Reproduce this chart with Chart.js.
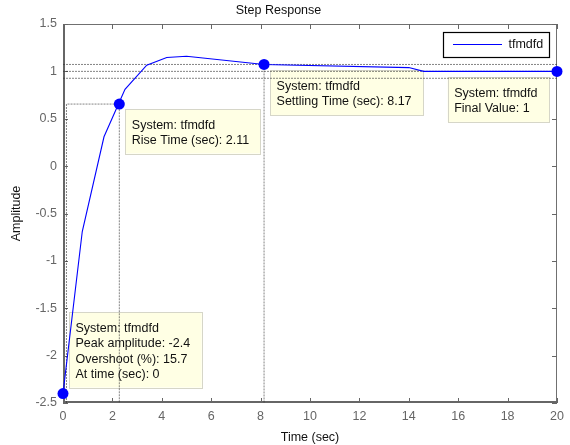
<!DOCTYPE html>
<html>
<head>
<meta charset="utf-8">
<script src="https://cdn.jsdelivr.net/npm/chart.js@4.4.1/dist/chart.umd.min.js"></script>
<style>
  html, body { margin: 0; padding: 0; background: #fff; }
</style>
</head>
<body>
<canvas id="stepChart" width="570" height="445"></canvas>
<script>
// step response curve
const seriesName = "tfmdfd";
const timeSec   = [0, 0.78, 1.66, 2.51, 3.39, 4.2, 5.0, 8.14, 14.0, 14.6, 20];
const amplitude = [-2.4, -0.69, 0.31, 0.81, 1.065, 1.147, 1.16, 1.073, 1.04, 1.0, 1.0];

// data tip markers: peak, rise, settling, final value
const markTime = [0, 2.28, 8.14, 20];
const markAmp  = [-2.4, 0.655, 1.073, 1];

const tipText = [
    ["System: tfmdfd", "Peak amplitude: -2.4", "Overshoot (%): 15.7", "At time (sec): 0"],
    ["System: tfmdfd", "Rise Time (sec): 2.11"],
    ["System: tfmdfd", "Settling Time (sec): 8.17"],
    ["System: tfmdfd", "Final Value: 1"]
];

// characteristic guide lines (settling band, final value, rise, settling)
const guideX = [[0, 20], [0, 20], [0, 20], [0.14, 0.14, 2.28, 2.28], [8.14, 8.14]];
const guideY = [[1.073, 1.073], [1, 1], [0.927, 0.927], [-2.5, 0.655, 0.655, -2.5], [1.073, -2.5]];

const xTicks = [0, 2, 4, 6, 8, 10, 12, 14, 16, 18, 20];
const yTicks = [-2.5, -2, -1.5, -1, -0.5, 0, 0.5, 1, 1.5];

const FONT = "'Liberation Sans', Arial, sans-serif";
Chart.defaults.font.family = FONT;
Chart.defaults.font.size = 12.5;

const toPts = (xs, ys) => xs.map((x, i) => ({x: x, y: ys[i]}));

const guideSets = guideX.map((xs, i) => ({
    label: "guide" + i,
    data: toPts(xs, guideY[i]),
    showLine: true,
    borderColor: "rgba(50,50,50,0.6)",
    borderWidth: 1,
    borderDash: [2, 1],
    pointRadius: 0
}));

// tip placement relative to its marker (pixels)
const tipPlace = [
    {dx: 6, dy: -6, anchor: "bottomLeft"},
    {dx: 6, dy: 5, anchor: "topLeft"},
    {dx: 6, dy: 6, anchor: "topLeft"},
    {dx: -8, dy: 6, anchor: "topRight"}
];

const matlabLook = {
    id: "matlabLook",
    beforeDatasetsDraw(chart) {
        const {ctx, chartArea: a, scales: {x, y}} = chart;
        ctx.save();
        // data tips
        ctx.font = "12.5px " + FONT;
        tipText.forEach((lines, i) => {
            const px = x.getPixelForValue(markTime[i]);
            const py = y.getPixelForValue(markAmp[i]);
            const w = Math.max(...lines.map(l => ctx.measureText(l).width)) + 18;
            const h = 19.5 + (lines.length - 1) * 15.5 + 9.5;
            const p = tipPlace[i];
            let left = p.anchor === "topRight" ? px + p.dx - w : px + p.dx;
            let top = p.anchor === "bottomLeft" ? py + p.dy - h : py + p.dy;
            ctx.fillStyle = "#ffffe4";
            ctx.fillRect(left, top, w, h);
            ctx.strokeStyle = "#d6d6c8";
            ctx.lineWidth = 1;
            ctx.strokeRect(Math.round(left) + 0.5, Math.round(top) + 0.5, Math.round(w), Math.round(h));
            ctx.fillStyle = "#111";
            ctx.textBaseline = "alphabetic";
            ctx.textAlign = "left";
            lines.forEach((l, k) => ctx.fillText(l, left + 6.5, top + 19.5 + k * 15.5));
        });
        // axes box with inward ticks
        ctx.strokeStyle = "#707070";
        ctx.lineWidth = 1;
        ctx.strokeRect(a.left + 0.5, a.top + 0.5, a.right - a.left - 1, a.bottom - a.top - 1);
        ctx.strokeStyle = "#666";
        ctx.lineWidth = 2;
        ctx.beginPath();
        ctx.moveTo(a.left + 1, a.top);
        ctx.lineTo(a.left + 1, a.bottom - 1);
        ctx.lineTo(a.right, a.bottom - 1);
        ctx.stroke();
        ctx.lineWidth = 1;
        ctx.beginPath();
        x.ticks.forEach(t => {
            const px = Math.round(x.getPixelForValue(t.value)) + 0.5;
            ctx.moveTo(px, a.bottom); ctx.lineTo(px, a.bottom - 5);
            ctx.moveTo(px, a.top); ctx.lineTo(px, a.top + 5);
        });
        y.ticks.forEach(t => {
            const py = Math.round(y.getPixelForValue(t.value)) + 0.5;
            ctx.moveTo(a.left, py); ctx.lineTo(a.left + 5, py);
            ctx.moveTo(a.right, py); ctx.lineTo(a.right - 5, py);
        });
        ctx.stroke();
        ctx.restore();
    },
    afterDatasetsDraw(chart) {
        // legend box, top right
        const {ctx} = chart;
        ctx.save();
        ctx.fillStyle = "#fff";
        ctx.fillRect(443, 32, 106, 25);
        ctx.strokeStyle = "#000";
        ctx.lineWidth = 1.2;
        ctx.strokeRect(443.5, 32.5, 106, 25);
        ctx.strokeStyle = "#0000ff";
        ctx.lineWidth = 1;
        ctx.beginPath();
        ctx.moveTo(453, 44.5); ctx.lineTo(502, 44.5);
        ctx.stroke();
        ctx.fillStyle = "#111";
        ctx.font = "12.5px " + FONT;
        ctx.textBaseline = "middle";
        ctx.fillText(seriesName, 508.5, 45);
        ctx.restore();
    }
};

new Chart(document.getElementById("stepChart"), {
    type: "scatter",
    data: {
        datasets: [
            {
                label: "markers",
                data: toPts(markTime, markAmp),
                pointRadius: 5.5,
                pointBackgroundColor: "#0000ff",
                pointBorderColor: "#0000ff",
                pointBorderWidth: 0,
                clip: false
            },
            {
                label: seriesName,
                data: toPts(timeSec, amplitude),
                showLine: true,
                borderColor: "#0000ff",
                borderWidth: 1.1,
                pointRadius: 0
            },
            ...guideSets
        ]
    },
    options: {
        responsive: false,
        animation: false,
        layout: {padding: {left: 0, right: 13, top: 0, bottom: 0}},
        plugins: {
            legend: {display: false},
            tooltip: {enabled: false},
            title: {
                display: true,
                text: "Step Response",
                color: "#111",
                font: {size: 12.5, weight: "normal"},
                padding: {top: 3, bottom: 6}
            }
        },
        scales: {
            x: {
                type: "linear",
                min: 0, max: 20,
                afterBuildTicks: s => { s.ticks = xTicks.map(v => ({value: v})); },
                afterFit: s => { s.height = 42; },
                grid: {display: false, drawTicks: false},
                border: {display: false},
                ticks: {color: "#666", padding: 6, maxRotation: 0, callback: v => String(v)},
                title: {display: true, text: "Time (sec)", color: "#111", padding: {top: 0, bottom: 0}}
            },
            y: {
                type: "linear",
                min: -2.5, max: 1.5,
                afterBuildTicks: s => { s.ticks = yTicks.map(v => ({value: v})); },
                afterFit: s => { s.width = 63; },
                grid: {display: false, drawTicks: false},
                border: {display: false},
                ticks: {color: "#666", padding: 6, callback: v => String(v)},
                title: {display: true, text: "Amplitude", color: "#111", padding: {top: 9, bottom: 0}}
            }
        }
    },
    plugins: [matlabLook]
});
</script>
</body>
</html>
